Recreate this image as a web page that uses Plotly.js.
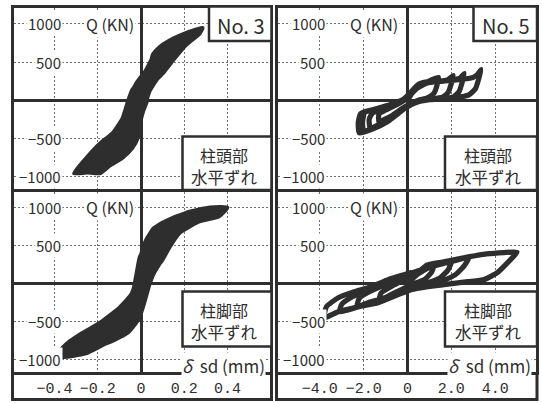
<!DOCTYPE html>
<html><head><meta charset="utf-8">
<script src="https://cdn.plot.ly/plotly-3.0.1.min.js"></script>
<style>html,body{margin:0;padding:0;background:#fff;}#chart{width:542px;height:403px;}</style>
</head><body><div id="chart"></div>
<script>
// ---- data ----
const xTopNo3 = [0, 0.01, 0.04, 0.08, 0.12,
 0.11, 0.08, 0.05, 0.02, 0.0, -0.03, -0.07, -0.12,
 -0.10, -0.07, -0.05, -0.03, 0.0, 0.03, 0.07, 0.13, 0.20, 0.23,
 0.21, 0.17, 0.12, 0.08, 0.04, 0.02, 0.0, -0.02, -0.05, -0.10, -0.16, -0.21,
 -0.19, -0.15, -0.11, -0.08, -0.06, -0.045, -0.02, 0.02, 0.05, 0.08, 0.13, 0.19, 0.285,
 0.27, 0.21, 0.15, 0.10, 0.055, 0.03, 0.028, 0.01, -0.005, -0.015, -0.04, -0.085, -0.145, -0.19, -0.25, -0.31,
 -0.25, -0.19, -0.13, -0.085, -0.06, -0.04, -0.005, 0.04, 0.055, 0.10, 0.166, 0.21, 0.28];
const yTopNo3 = [0, 150, 330, 500, 640,
 520, 350, 180, 0, -180, -380, -560, -700,
 -560, -380, -200, 0, 200, 380, 540, 680, 820, 860,
 780, 620, 450, 300, 120, -50, -230, -420, -600, -760, -870, -950,
 -800, -640, -480, -300, -100, 80, 230, 380, 540, 680, 780, 860, 950,
 870, 730, 530, 350, 220, 90, -10, -145, -310, -495, -625, -755, -860, -960, -950, -960,
 -750, -570, -430, -235, -10, 140, 250, 420, 600, 730, 805, 870, 945];

const xTopNo5 = [0, 0.2, 0.5, 0.9, 1.41,
 1.35, 1.2, 0.9, 0.5, 0.1, -0.3, -0.7, -1.1, -1.3,
 -1.3, -1.0, -0.5, 0, 0.3, 0.7, 1.2, 1.6, 1.85, 2.09,
 2.0, 1.85, 1.6, 1.1, 0.6, 0.2, -0.3, -0.8, -1.3, -1.7,
 -1.75, -1.6, -1.2, -0.6, 0, 0.4, 0.9, 1.5, 2.1, 2.4, 2.59,
 2.5, 2.35, 2.1, 1.6, 1.0, 0.4, -0.2, -0.8, -1.4, -2.0,
 -2.05, -1.95, -1.5, -0.8, -0.2, 0.2, 0.5, 1.1, 1.8, 2.5, 3.0, 3.2, 3.36,
 3.25, 3.1, 2.8, 2.2, 1.4, 0.6, 0.1, -0.4, -0.9, -1.6, -2.2,
 -2.25, -2.15, -1.8, -1.2, -0.4, 0.0];
const yTopNo5 = [0, 90, 180, 240, 299,
 200, 90, 30, 0, -50, -120, -200, -260, -290,
 -180, -130, -60, 30, 120, 210, 245, 255, 270, 325,
 220, 100, 40, 15, 0, -50, -140, -240, -320, -370,
 -250, -170, -120, -50, 40, 150, 225, 245, 265, 290, 351,
 240, 110, 45, 20, 5, -30, -120, -250, -340, -410,
 -280, -160, -120, -60, 10, 120, 210, 250, 255, 275, 300, 340, 403,
 280, 150, 70, 35, 20, 0, -60, -170, -280, -380, -430,
 -300, -180, -140, -105, -20, 40];

const xBaseNo3 = [0, 0.02, 0.05, 0.08, 0.12,
 0.10, 0.07, 0.04, 0.02, 0.0, -0.03, -0.07, -0.12,
 -0.10, -0.07, -0.04, -0.02, 0.0, 0.02, 0.05, 0.09, 0.15, 0.22,
 0.19, 0.15, 0.11, 0.07, 0.04, 0.02, 0.0, -0.04, -0.10, -0.16, -0.22,
 -0.20, -0.15, -0.10, -0.06, -0.03, -0.015, 0.0, 0.025, 0.06, 0.12, 0.20, 0.32,
 0.28, 0.22, 0.17, 0.13, 0.09, 0.05, 0.03, 0.01, -0.01, -0.06, -0.14, -0.24, -0.32,
 -0.30, -0.25, -0.18, -0.11, -0.06, -0.03, -0.015, 0.0, 0.03, 0.055, 0.10, 0.15, 0.21, 0.32, 0.40,
 0.36, 0.27, 0.18, 0.133, 0.10, 0.055, 0.028, 0.009, -0.005, -0.064, -0.156, -0.248, -0.34, -0.40,
 -0.34, -0.27, -0.19, -0.10, -0.04, -0.02, -0.005, 0.03];
const yBaseNo3 = [0, 250, 450, 560, 650,
 520, 330, 130, -70, -250, -420, -540, -600,
 -480, -330, -150, 50, 250, 420, 580, 720, 800, 850,
 760, 600, 400, 200, 0, -200, -380, -560, -680, -760, -800,
 -680, -560, -420, -260, -60, 160, 380, 580, 730, 830, 920, 990,
 900, 780, 640, 470, 280, 90, -100, -300, -460, -640, -760, -850, -900,
 -780, -680, -560, -400, -220, -40, 160, 380, 580, 711, 803, 842, 934, 1000, 1000,
 880, 816, 671, 487, 316, 145, -40, -210, -434, -645, -776, -908, -960, -960,
 -780, -645, -513, -316, -118, 145, 355, 500];

const xBaseNo5 = [0, 0.5, 1.2,
 1.1, 0.8, 0.3, -0.3, -0.8, -1.3,
 -1.2, -0.7, -0.1, 0.5, 1.2, 2.0,
 1.85, 1.5, 1.0, 0.3, -0.4, -1.2, -1.8, -2.3,
 -2.2, -1.7, -1.0, -0.3, 0.4, 1.1, 1.9, 2.8,
 2.6, 2.2, 1.6, 0.9, 0.2, -0.6, -1.5, -2.3, -3.1,
 -3.0, -2.5, -1.8, -1.0, -0.2, 0.6, 0.9, 1.6, 2.5, 3.6, 4.4, 5.0,
 4.7, 4.1, 3.5, 2.75, 1.66, 0.93, 0.16, -0.43, -1.34, -2.25, -3.16, -3.8,
 -3.7, -3.16, -2.43, -1.66, -0.89, -0.16, 0.2];
const yBaseNo5 = [0, 130, 240,
 150, 60, 0, -80, -150, -220,
 -120, -30, 60, 150, 230, 290,
 180, 80, 20, -40, -120, -200, -250, -300,
 -190, -100, -10, 80, 160, 230, 280, 345,
 240, 120, 40, -10, -60, -150, -240, -310, -370,
 -270, -170, -80, 20, 110, 180, 245, 285, 335, 390, 408, 412,
 316, 145, 55, 26, -13, -39, -79, -145, -250, -303, -368, -447,
 -303, -184, -105, -39, 53, 118, 150];

const xTickValsNo3 = [-0.4, -0.2, 0, 0.2, 0.4];
const xTickTextNo3 = ['−0.4', '−0.2', '0', '0.2', '0.4'];
const xTickValsNo5 = [-4, -2, 0, 2, 4];
const xTickTextNo5 = ['−4.0', '−2.0', '0', '2.0', '4.0'];
const yTickVals = [1000, 500, 0, -500, -1000];
const yTickText = ['1000', '500', '', '−500', '−1000'];
const specimenLabels = ['No. 3', 'No. 5'];
const locationLabels = ['柱頭部', '柱脚部'];
const slipLabel = '水平ずれ';
const yAxisLabel = 'Q (KN)';
const xAxisLabel = '<i>δ</i>\u00a0\u00a0sd (mm)';

// ---- layout helpers (pixel geometry) ----
const W = 542, H = 403;
const fx = v => v / W;
const fy = v => 1 - v / H;
const INK = '#2e2e2e';
const FONT = '"Noto Sans CJK JP", "Noto Sans", sans-serif';
const cols = [{l: 14, r: 270}, {l: 278, r: 535.5}];
const rows = [{t: 8, b: 188.5}, {t: 191.5, b: 372}];
const xRanges = [[-0.588, 0.597], [-5.91, 5.84]];
const yRange = [-1160, 1210];

const panels = [
  {c: 0, r: 0, x: xTopNo3, y: yTopNo3, filled: true},
  {c: 1, r: 0, x: xTopNo5, y: yTopNo5, filled: false},
  {c: 0, r: 1, x: xBaseNo3, y: yBaseNo3, filled: true},
  {c: 1, r: 1, x: xBaseNo5, y: yBaseNo5, filled: false}
];

const layout = {
  width: W, height: H, margin: {l: 0, r: 0, t: 0, b: 0},
  paper_bgcolor: '#fff', plot_bgcolor: '#fff', showlegend: false,
  font: {family: FONT, color: INK},
  shapes: [], annotations: []
};
const traces = [];

panels.forEach((p, i) => {
  const n = i === 0 ? '' : String(i + 1);
  const col = cols[p.c], row = rows[p.r];
  const tv = p.c === 0 ? xTickValsNo3 : xTickValsNo5;
  const tt = p.c === 0 ? xTickTextNo3 : xTickTextNo5;
  layout['xaxis' + n] = {
    domain: [fx(col.l), fx(col.r)], anchor: 'y' + n, range: xRanges[p.c],
    tickmode: 'array', tickvals: tv, ticktext: tt, showticklabels: p.r === 1,
    tickfont: {family: '"Liberation Mono", monospace', size: 15, color: INK},
    ticks: '', showgrid: true, gridcolor: '#6e6e6e', gridwidth: 1, griddash: '2px,2px',
    zeroline: true, zerolinecolor: INK, zerolinewidth: 3,
    showline: true, linecolor: INK, linewidth: 3, mirror: true, fixedrange: true
  };
  layout['yaxis' + n] = {
    domain: [fy(row.b), fy(row.t)], anchor: 'x' + n, range: yRange,
    tickmode: 'array', tickvals: yTickVals, showticklabels: false,
    ticks: '', showgrid: true, gridcolor: '#6e6e6e', gridwidth: 1, griddash: '2px,2px',
    zeroline: true, zerolinecolor: INK, zerolinewidth: 3,
    showline: true, linecolor: INK, linewidth: 3, mirror: true, fixedrange: true
  };
  const tr = {
    x: p.x, y: p.y, xaxis: 'x' + n, yaxis: 'y' + n, mode: 'lines',
    line: {color: INK, width: p.filled ? 4 : 5.2, shape: 'spline', smoothing: 0.5}, hoverinfo: 'skip'
  };
  if (p.filled) { tr.fill = 'toself'; tr.fillcolor = INK; }
  traces.push(tr);
  // y tick labels inside the plot, on white
  yTickVals.forEach((v, k) => {
    if (!yTickText[k]) return;
    layout.annotations.push({
      xref: 'paper', yref: 'y' + n, x: fx(col.l + 49), y: v, xanchor: 'right', yanchor: 'middle',
      text: yTickText[k], showarrow: false, bgcolor: '#fff', borderpad: 1,
      font: {family: FONT, size: 15, color: INK}
    });
  });
  layout.annotations.push({
    xref: 'paper', yref: 'y' + n, x: fx(col.l + 96), y: 1000, xanchor: 'center', yanchor: 'middle',
    text: yAxisLabel, showarrow: false, bgcolor: '#fff', borderpad: 1,
    font: {family: FONT, size: 16, color: INK}
  });
  // location box
  const bx0 = p.c === 0 ? 182.5 : 445;
  const bx1 = col.r + 1.5;
  const by0 = p.r === 0 ? 136.5 : 291.5;
  const by1 = p.r === 0 ? 190 : 346.5;
  layout.shapes.push({type: 'rect', xref: 'paper', yref: 'paper',
    x0: fx(bx0), x1: fx(bx1), y0: fy(by1), y1: fy(by0),
    line: {color: INK, width: 2.5}, fillcolor: '#fff', layer: 'above'});
  const cx = (bx0 + bx1) / 2 - 3;
  layout.annotations.push({
    xref: 'paper', yref: 'paper', x: fx(cx), y: fy(by0 + 18.5),
    xanchor: 'center', yanchor: 'middle', text: locationLabels[p.r], showarrow: false,
    font: {family: FONT, size: 16, color: INK}
  });
  layout.annotations.push({
    xref: 'paper', yref: 'paper', x: fx(cx), y: fy(by0 + 40),
    xanchor: 'center', yanchor: 'middle', text: slipLabel, showarrow: false,
    font: {family: FONT, size: 16.5, color: INK}
  });
  if (p.r === 0) {
    const nx0 = p.c === 0 ? 209 : 473.5;
    layout.shapes.push({type: 'rect', xref: 'paper', yref: 'paper',
      x0: fx(nx0), x1: fx(col.r + 1.5), y0: fy(41), y1: fy(6.5),
      line: {color: INK, width: 2.5}, fillcolor: '#fff', layer: 'above'});
    layout.annotations.push({
      xref: 'paper', yref: 'paper', x: fx((nx0 + col.r) / 2 + 1), y: fy(25.5),
      xanchor: 'center', yanchor: 'middle', text: specimenLabels[p.c], showarrow: false,
      font: {family: FONT, size: 20, color: INK}
    });
  } else {
    layout.annotations.push({
      xref: 'paper', yref: 'y' + n, x: fx(col.r - 4), y: -1000, xanchor: 'right', yanchor: 'top',
      yshift: 8, text: xAxisLabel, showarrow: false, bgcolor: '#fff', borderpad: 0,
      font: {family: FONT, size: 17, color: INK}
    });
    // tick-label strip frame
    layout.shapes.push({type: 'rect', xref: 'paper', yref: 'paper',
      x0: fx(col.l - 1.5), x1: fx(col.r + 1.5), y0: fy(399.5), y1: fy(373.5),
      line: {color: INK, width: 3}, fillcolor: 'rgba(0,0,0,0)', layer: 'above'});
  }
});

Plotly.newPlot('chart', traces, layout, {staticPlot: true, displayModeBar: false});
</script>
</body></html>
